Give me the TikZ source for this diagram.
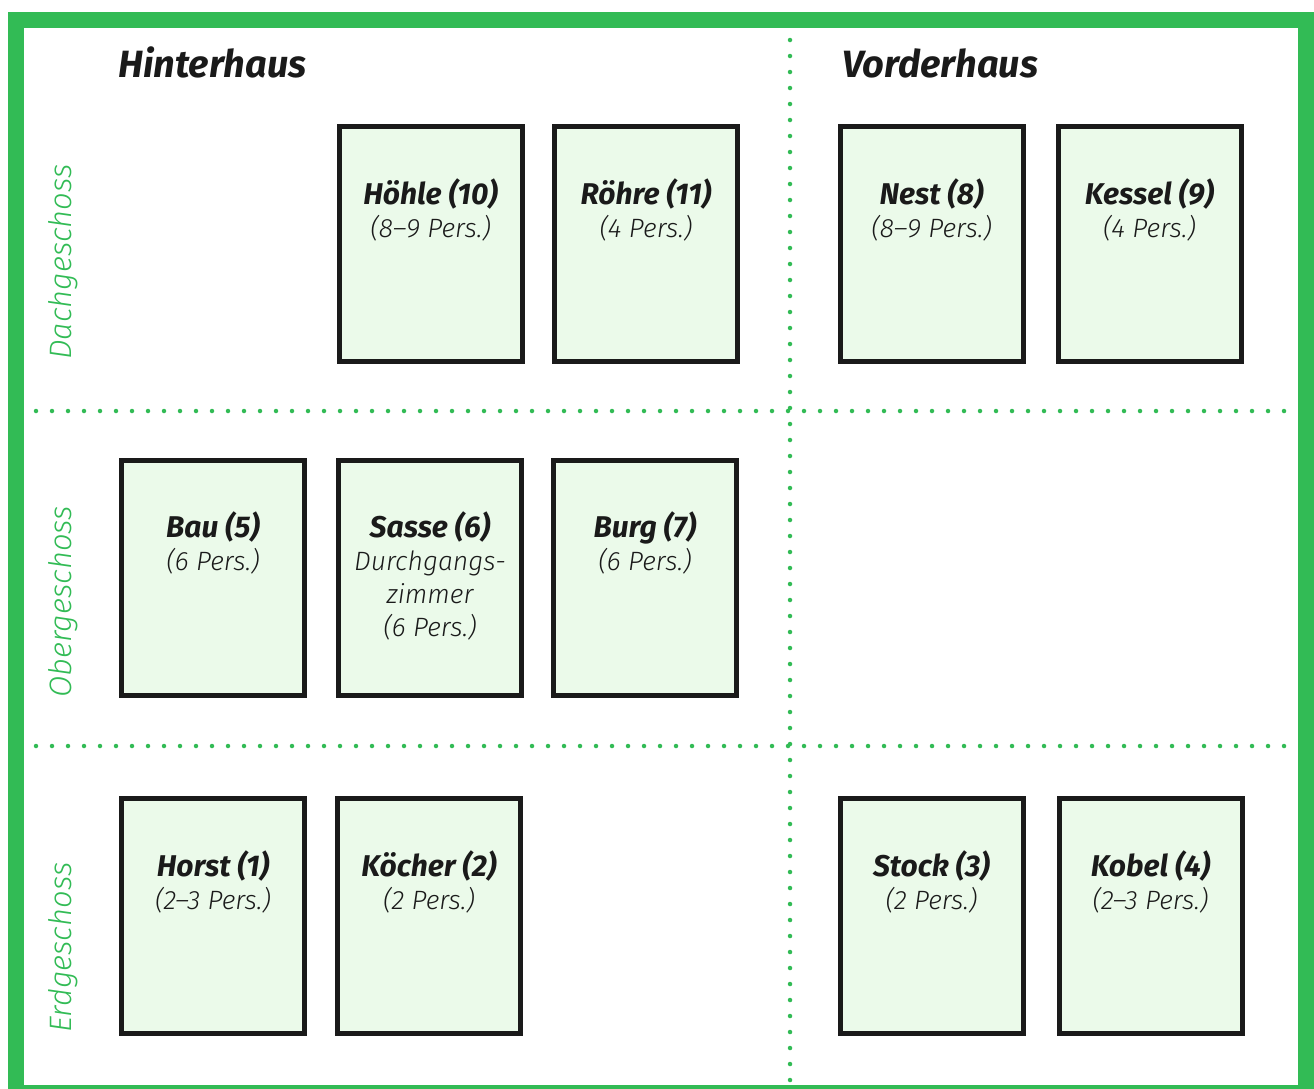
\documentclass[tikz,border=0pt]{standalone}
\usepackage{fontspec}
\setmainfont{Fira Sans}
\newfontfamily\roomlight{Fira Sans Light}[ItalicFont={Fira Sans Light Italic}]
\usepackage{xcolor}
\usepackage{tikz}
\usetikzlibrary{positioning}
\definecolor{plangreen}{RGB}{50,187,85}
\definecolor{roomfill}{RGB}{235,250,234}
\definecolor{roomline}{RGB}{26,26,26}
\tikzset{
  room/.style={draw=roomline, fill=roomfill, line width=5pt, minimum width=183pt, minimum height=235pt, inner sep=0pt},
  roomname/.style={anchor=base, text=roomline, inner sep=0pt, font=\fontsize{30}{33}\selectfont\bfseries\itshape},
  roomsize/.style={anchor=base, text=roomline, inner sep=0pt, align=center, font=\fontsize{26.5}{33}\selectfont\roomlight\itshape},
  house/.style={anchor=base west, text=roomline, inner sep=0pt, font=\fontsize{38}{40}\selectfont\bfseries\itshape},
  floor/.style={anchor=base west, rotate=90, text=plangreen, inner sep=0pt, font=\fontsize{31}{31}\selectfont\roomlight\itshape},
  divider/.style={plangreen, line width=4.5pt, line cap=round, dash pattern=on 0pt off 16pt}
}

\begin{document}
\begin{tikzpicture}[x=1pt,y=-1pt]
                \useasboundingbox (0,0) rectangle (1314,1088);
                \draw[plangreen, line width=16pt] (16,20) rectangle (1306,1093);
                \draw[divider] (790,40) -- (790,1082);
                \draw[divider] (36,411) -- (1293,411);
                \draw[divider] (36,746) -- (1293,746);
                \node[house] (hinterhaus) at (118,77) {Hinterhaus};
                \node[house] (vorderhaus) at (842,77) {Vorderhaus};
                \node[floor] (dach) at (71,360) {Dachgeschoss};
                \node[floor] (ober) at (71,698) {Obergeschoss};
                \node[floor] (erd) at (71,1033) {Erdgeschoss};
                \node[room] (hoehle) at (430.5,244) {};
                \node[roomname] (hoehle-name) at ([yshift=-80pt]hoehle.north) {Höhle (10)};
                \node[roomsize] (hoehle-size) at ([yshift=-33pt]hoehle-name.base) {(8–9 Pers.)};
                \node[room] (roehre) at (646,244) {};
                \node[roomname] (roehre-name) at ([yshift=-80pt]roehre.north) {Röhre (11)};
                \node[roomsize] (roehre-size) at ([yshift=-33pt]roehre-name.base) {(4 Pers.)};
                \node[room] (nest) at (931.5,244) {};
                \node[roomname] (nest-name) at ([yshift=-80pt]nest.north) {Nest (8)};
                \node[roomsize] (nest-size) at ([yshift=-33pt]nest-name.base) {(8–9 Pers.)};
                \node[room] (kessel) at (1149.5,244) {};
                \node[roomname] (kessel-name) at ([yshift=-80pt]kessel.north) {Kessel (9)};
                \node[roomsize] (kessel-size) at ([yshift=-33pt]kessel-name.base) {(4 Pers.)};
                \node[room] (bau) at (213,577.5) {};
                \node[roomname] (bau-name) at ([yshift=-80pt]bau.north) {Bau (5)};
                \node[roomsize] (bau-size) at ([yshift=-33pt]bau-name.base) {(6 Pers.)};
                \node[room] (sasse) at (430,577.5) {};
                \node[roomname] (sasse-name) at ([yshift=-80pt]sasse.north) {Sasse (6)};
                \node[roomsize] (sasse-size) at ([yshift=-99pt]sasse-name.base) {Durchgangs-\\zimmer\\(6 Pers.)};
                \node[room] (burg) at (645,577.5) {};
                \node[roomname] (burg-name) at ([yshift=-80pt]burg.north) {Burg (7)};
                \node[roomsize] (burg-size) at ([yshift=-33pt]burg-name.base) {(6 Pers.)};
                \node[room] (horst) at (213,916) {};
                \node[roomname] (horst-name) at ([yshift=-80pt]horst.north) {Horst (1)};
                \node[roomsize] (horst-size) at ([yshift=-33pt]horst-name.base) {(2–3 Pers.)};
                \node[room] (koecher) at (429,916) {};
                \node[roomname] (koecher-name) at ([yshift=-80pt]koecher.north) {Köcher (2)};
                \node[roomsize] (koecher-size) at ([yshift=-33pt]koecher-name.base) {(2 Pers.)};
                \node[room] (stock) at (931.5,916) {};
                \node[roomname] (stock-name) at ([yshift=-80pt]stock.north) {Stock (3)};
                \node[roomsize] (stock-size) at ([yshift=-33pt]stock-name.base) {(2 Pers.)};
                \node[room] (kobel) at (1150.5,916) {};
                \node[roomname] (kobel-name) at ([yshift=-80pt]kobel.north) {Kobel (4)};
                \node[roomsize] (kobel-size) at ([yshift=-33pt]kobel-name.base) {(2–3 Pers.)};
            \end{tikzpicture}
\end{document}
